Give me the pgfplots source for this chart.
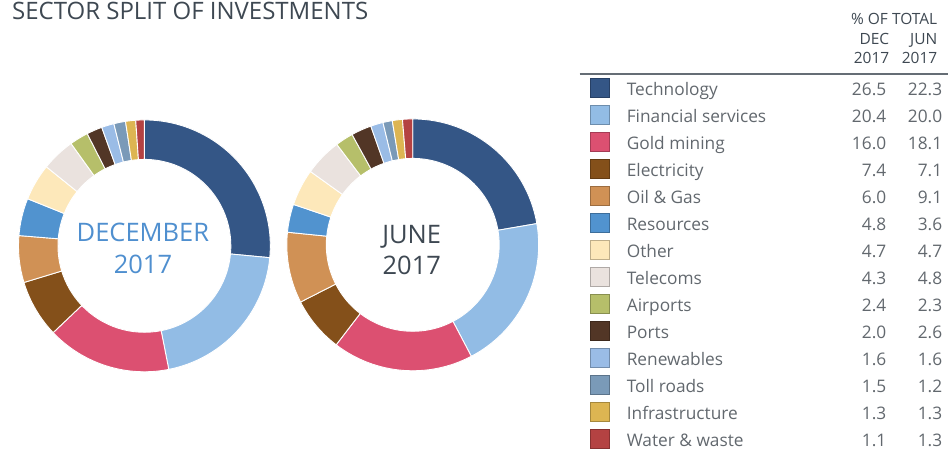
\documentclass[border=0pt]{standalone}
\usepackage{pgfplots}
\pgfplotsset{compat=1.18}
\usepackage{fontspec}
\setmainfont{Open Sans}

\definecolor{cTech}{HTML}{345686}
\definecolor{cFin}{HTML}{92BCE5}
\definecolor{cGold}{HTML}{DC5071}
\definecolor{cElec}{HTML}{84501A}
\definecolor{cOil}{HTML}{D09155}
\definecolor{cRes}{HTML}{5193CF}
\definecolor{cOther}{HTML}{FDE8BA}
\definecolor{cTel}{HTML}{EAE2DE}
\definecolor{cAir}{HTML}{B6BF6A}
\definecolor{cPorts}{HTML}{523626}
\definecolor{cRen}{HTML}{9ABCE6}
\definecolor{cToll}{HTML}{7A9AB8}
\definecolor{cInf}{HTML}{DDB552}
\definecolor{cWater}{HTML}{B44242}
\definecolor{titlegray}{HTML}{3E4852}
\definecolor{textgray}{HTML}{62686E}
\definecolor{decblue}{HTML}{4F8FCF}

% name / Dec 2017 / Jun 2017 / colour
\def\sectors{Technology/26.5/22.3/cTech, Financial services/20.4/20.0/cFin,
  Gold mining/16.0/18.1/cGold, Electricity/7.4/7.1/cElec, Oil \& Gas/6.0/9.1/cOil,
  Resources/4.8/3.6/cRes, Other/4.7/4.7/cOther, Telecoms/4.3/4.8/cTel,
  Airports/2.4/2.3/cAir, Ports/2.0/2.6/cPorts, Renewables/1.6/1.6/cRen,
  Toll roads/1.5/1.2/cToll, Infrastructure/1.3/1.3/cInf, Water \& waste/1.1/1.3/cWater}

\def\Ro{126pt}
\def\Ri{86.5pt}

\begin{document}
\begin{tikzpicture}
\begin{axis}[
    scale only axis,
    width=949pt, height=450pt,
    xmin=0, xmax=949, ymin=0, ymax=450,
    y dir=reverse,
    hide axis, clip=false,
]
\path (axis cs:0,0) rectangle (axis cs:949,450);
\xdef\cumD{0}\xdef\cumJ{0}
\foreach \nm/\vd/\vj/\cl [count=\i from 0] in \sectors {
  \pgfmathsetmacro\aS{90-3.6*\cumD}
  \pgfmathsetmacro\aE{90-3.6*(\cumD+\vd)}
  \pgfmathsetmacro\bS{90-3.6*\cumJ}
  \pgfmathsetmacro\bE{90-3.6*(\cumJ+\vj)}
  \pgfmathsetmacro\ry{88+27*\i}
  \pgfmathsetmacro\rt{\ry-9.5}
  \pgfmathsetmacro\rb{\ry+9.5}
  \pgfmathsetmacro\bl{\ry+7.5}
  \edef\temp{
    \noexpand\fill[\cl, draw=white, line width=0.9pt]
      ([shift={(\aS:\Ro)}]axis cs:144.5,246) arc[start angle=\aS, end angle=\aE, radius=\Ro]
      -- ([shift={(\aE:\Ri)}]axis cs:144.5,246) arc[start angle=\aE, end angle=\aS, radius=\Ri] -- cycle;
    \noexpand\fill[\cl, draw=white, line width=0.9pt]
      ([shift={(\bS:\Ro)}]axis cs:413,245) arc[start angle=\bS, end angle=\bE, radius=\Ro]
      -- ([shift={(\bE:\Ri)}]axis cs:413,245) arc[start angle=\bE, end angle=\bS, radius=\Ri] -- cycle;
    \noexpand\filldraw[fill=\cl, draw=\cl!75!black, line width=0.6pt]
      (axis cs:591,\rt) rectangle (axis cs:610,\rb);
    \noexpand\node[anchor=base west, inner sep=0pt, text=textgray, font=\noexpand\fontsize{17.3}{20}\noexpand\selectfont]
      at (axis cs:627,\bl) {\nm};
    \noexpand\node[anchor=base east, inner sep=0pt, text=textgray, font=\noexpand\fontsize{17.3}{20}\noexpand\selectfont]
      at (axis cs:887,\bl) {\vd};
    \noexpand\node[anchor=base east, inner sep=0pt, text=textgray, font=\noexpand\fontsize{17.3}{20}\noexpand\selectfont]
      at (axis cs:943,\bl) {\vj};
  }
  \temp
  \pgfmathsetmacro\t{\cumD+\vd}\xdef\cumD{\t}
  \pgfmathsetmacro\t{\cumJ+\vj}\xdef\cumJ{\t}
}
% centre labels
\node[anchor=base, inner sep=0pt, text=decblue, font=\fontsize{25.5}{30}\selectfont] at (axis cs:143,242) {DECEMBER};
\node[anchor=base, inner sep=0pt, text=decblue, font=\fontsize{25.5}{30}\selectfont] at (axis cs:143,273.5) {2017};
\node[anchor=base, inner sep=0pt, text=titlegray, font=\fontsize{25.5}{30}\selectfont] at (axis cs:412,244) {JUNE};
\node[anchor=base, inner sep=0pt, text=titlegray, font=\fontsize{25.5}{30}\selectfont] at (axis cs:412,275) {2017};
% title
\node[anchor=base west, inner sep=0pt, text=titlegray, font=\fontsize{24}{27}\selectfont] at (axis cs:12,19.5) {SECTOR SPLIT OF INVESTMENTS};
% table header
\node[anchor=base east, inner sep=0pt, text=titlegray, font=\fontsize{15.5}{18}\selectfont] at (axis cs:938,25) {\% OF TOTAL};
\node[anchor=base east, inner sep=0pt, text=titlegray, font=\fontsize{15.5}{18}\selectfont] at (axis cs:890,45) {DEC};
\node[anchor=base east, inner sep=0pt, text=titlegray, font=\fontsize{15.5}{18}\selectfont] at (axis cs:938,45) {JUN};
\node[anchor=base east, inner sep=0pt, text=titlegray, font=\fontsize{15.5}{18}\selectfont] at (axis cs:890,63.5) {2017};
\node[anchor=base east, inner sep=0pt, text=titlegray, font=\fontsize{15.5}{18}\selectfont] at (axis cs:938,63.5) {2017};
\draw[titlegray!80, line width=1.2pt] (axis cs:580,74) -- (axis cs:949,74);
\end{axis}
\end{tikzpicture}
\end{document}
